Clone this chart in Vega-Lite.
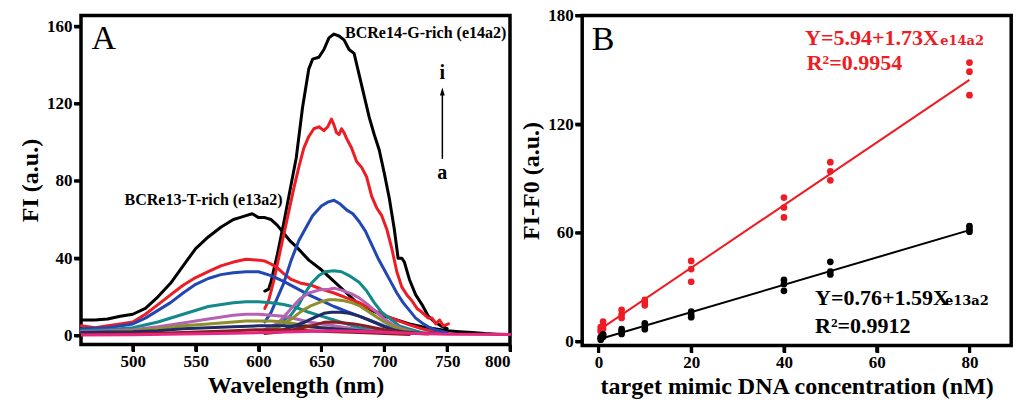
{
  "$schema": "https://vega.github.io/schema/vega-lite/v6.json",
  "padding": {"left": 16, "top": 4.5, "right": 0, "bottom": 0},
  "spacing": 3.2,
  "resolve": {"scale": {"color": "independent"}},
  "config": {
    "view": {"stroke": "black", "strokeWidth": 3.5},
    "axis": {"domain": false, "grid": false, "tickColor": "black", "tickWidth": 3, "tickSize": 7,
      "labelFont": "Liberation Serif", "labelFontWeight": "bold", "labelFontSize": 17, "labelColor": "black",
      "titleFont": "Liberation Serif", "titleFontWeight": "bold", "titleFontSize": 24, "titleColor": "black"}
  },
  "hconcat": [
    {
      "width": 429,
      "height": 329,
      "layer": [
        {
          "data": {"values": [
      {"curve":"i13","sample":"i","nm":459,"fi":8},{"curve":"i13","sample":"i","nm":470,"fi":8},{"curve":"i13","sample":"i","nm":480,"fi":8.5},{"curve":"i13","sample":"i","nm":490,"fi":10},{"curve":"i13","sample":"i","nm":500,"fi":11},{"curve":"i13","sample":"i","nm":510,"fi":14},{"curve":"i13","sample":"i","nm":520,"fi":20},{"curve":"i13","sample":"i","nm":530,"fi":27},{"curve":"i13","sample":"i","nm":540,"fi":36},{"curve":"i13","sample":"i","nm":550,"fi":45},{"curve":"i13","sample":"i","nm":560,"fi":51},{"curve":"i13","sample":"i","nm":570,"fi":56},{"curve":"i13","sample":"i","nm":580,"fi":60},{"curve":"i13","sample":"i","nm":585,"fi":61},{"curve":"i13","sample":"i","nm":590,"fi":62},{"curve":"i13","sample":"i","nm":595,"fi":63},{"curve":"i13","sample":"i","nm":600,"fi":61},{"curve":"i13","sample":"i","nm":605,"fi":61},{"curve":"i13","sample":"i","nm":610,"fi":60},{"curve":"i13","sample":"i","nm":615,"fi":57},{"curve":"i13","sample":"i","nm":620,"fi":53},{"curve":"i13","sample":"i","nm":625,"fi":49},{"curve":"i13","sample":"i","nm":630,"fi":46},{"curve":"i13","sample":"i","nm":640,"fi":39},{"curve":"i13","sample":"i","nm":650,"fi":34},{"curve":"i13","sample":"i","nm":660,"fi":28},{"curve":"i13","sample":"i","nm":670,"fi":22},{"curve":"i13","sample":"i","nm":680,"fi":16},{"curve":"i13","sample":"i","nm":690,"fi":13},{"curve":"i13","sample":"i","nm":700,"fi":10},{"curve":"i13","sample":"i","nm":710,"fi":8},{"curve":"i13","sample":"i","nm":720,"fi":6},{"curve":"i13","sample":"i","nm":730,"fi":4.5},{"curve":"i13","sample":"i","nm":740,"fi":3.5},{"curve":"i13","sample":"i","nm":750,"fi":2.5},{"curve":"i13","sample":"i","nm":760,"fi":2},{"curve":"i13","sample":"i","nm":770,"fi":1.5},{"curve":"i13","sample":"i","nm":780,"fi":1},{"curve":"i13","sample":"i","nm":790,"fi":0.7},{"curve":"i13","sample":"i","nm":800,"fi":0.5},
      {"curve":"i14","sample":"i","nm":605,"fi":23},{"curve":"i14","sample":"i","nm":608,"fi":24},{"curve":"i14","sample":"i","nm":610,"fi":28},{"curve":"i14","sample":"i","nm":615,"fi":42},{"curve":"i14","sample":"i","nm":620,"fi":58},{"curve":"i14","sample":"i","nm":625,"fi":75},{"curve":"i14","sample":"i","nm":630,"fi":92},{"curve":"i14","sample":"i","nm":635,"fi":118},{"curve":"i14","sample":"i","nm":640,"fi":138},{"curve":"i14","sample":"i","nm":643,"fi":143},{"curve":"i14","sample":"i","nm":648,"fi":144},{"curve":"i14","sample":"i","nm":652,"fi":148},{"curve":"i14","sample":"i","nm":656,"fi":154},{"curve":"i14","sample":"i","nm":660,"fi":156},{"curve":"i14","sample":"i","nm":664,"fi":155},{"curve":"i14","sample":"i","nm":668,"fi":153},{"curve":"i14","sample":"i","nm":672,"fi":148},{"curve":"i14","sample":"i","nm":676,"fi":146},{"curve":"i14","sample":"i","nm":680,"fi":135},{"curve":"i14","sample":"i","nm":684,"fi":124},{"curve":"i14","sample":"i","nm":688,"fi":113},{"curve":"i14","sample":"i","nm":692,"fi":104},{"curve":"i14","sample":"i","nm":696,"fi":96},{"curve":"i14","sample":"i","nm":700,"fi":84},{"curve":"i14","sample":"i","nm":704,"fi":71},{"curve":"i14","sample":"i","nm":708,"fi":55},{"curve":"i14","sample":"i","nm":711,"fi":40},{"curve":"i14","sample":"i","nm":714,"fi":40},{"curve":"i14","sample":"i","nm":716,"fi":38},{"curve":"i14","sample":"i","nm":720,"fi":29},{"curve":"i14","sample":"i","nm":725,"fi":21},{"curve":"i14","sample":"i","nm":730,"fi":16},{"curve":"i14","sample":"i","nm":735,"fi":10},{"curve":"i14","sample":"i","nm":740,"fi":7},{"curve":"i14","sample":"i","nm":745,"fi":5},{"curve":"i14","sample":"i","nm":750,"fi":3.5},
      {"curve":"h13","sample":"h","nm":459,"fi":5},{"curve":"h13","sample":"h","nm":470,"fi":4},{"curve":"h13","sample":"h","nm":480,"fi":5},{"curve":"h13","sample":"h","nm":490,"fi":6},{"curve":"h13","sample":"h","nm":500,"fi":7},{"curve":"h13","sample":"h","nm":510,"fi":11},{"curve":"h13","sample":"h","nm":520,"fi":16},{"curve":"h13","sample":"h","nm":530,"fi":21},{"curve":"h13","sample":"h","nm":540,"fi":26},{"curve":"h13","sample":"h","nm":550,"fi":30},{"curve":"h13","sample":"h","nm":560,"fi":33},{"curve":"h13","sample":"h","nm":570,"fi":36},{"curve":"h13","sample":"h","nm":580,"fi":38},{"curve":"h13","sample":"h","nm":590,"fi":39.5},{"curve":"h13","sample":"h","nm":600,"fi":39},{"curve":"h13","sample":"h","nm":605,"fi":38.5},{"curve":"h13","sample":"h","nm":610,"fi":37},{"curve":"h13","sample":"h","nm":615,"fi":35},{"curve":"h13","sample":"h","nm":620,"fi":32},{"curve":"h13","sample":"h","nm":626,"fi":29},{"curve":"h13","sample":"h","nm":634,"fi":27},{"curve":"h13","sample":"h","nm":642,"fi":26},{"curve":"h13","sample":"h","nm":650,"fi":24},{"curve":"h13","sample":"h","nm":660,"fi":22},{"curve":"h13","sample":"h","nm":670,"fi":19.5},{"curve":"h13","sample":"h","nm":680,"fi":17},{"curve":"h13","sample":"h","nm":690,"fi":13.5},{"curve":"h13","sample":"h","nm":700,"fi":10.5},{"curve":"h13","sample":"h","nm":710,"fi":8},{"curve":"h13","sample":"h","nm":720,"fi":5.5},{"curve":"h13","sample":"h","nm":730,"fi":3.5},{"curve":"h13","sample":"h","nm":740,"fi":2},{"curve":"h13","sample":"h","nm":750,"fi":1},
      {"curve":"h14","sample":"h","nm":605,"fi":14},{"curve":"h14","sample":"h","nm":608,"fi":18},{"curve":"h14","sample":"h","nm":612,"fi":28},{"curve":"h14","sample":"h","nm":616,"fi":40},{"curve":"h14","sample":"h","nm":620,"fi":52},{"curve":"h14","sample":"h","nm":624,"fi":64},{"curve":"h14","sample":"h","nm":628,"fi":76},{"curve":"h14","sample":"h","nm":632,"fi":87},{"curve":"h14","sample":"h","nm":636,"fi":97},{"curve":"h14","sample":"h","nm":640,"fi":103},{"curve":"h14","sample":"h","nm":644,"fi":107},{"curve":"h14","sample":"h","nm":648,"fi":108},{"curve":"h14","sample":"h","nm":652,"fi":106},{"curve":"h14","sample":"h","nm":655,"fi":108},{"curve":"h14","sample":"h","nm":658,"fi":112},{"curve":"h14","sample":"h","nm":660,"fi":109},{"curve":"h14","sample":"h","nm":662,"fi":105},{"curve":"h14","sample":"h","nm":664,"fi":104},{"curve":"h14","sample":"h","nm":666,"fi":107},{"curve":"h14","sample":"h","nm":668,"fi":105},{"curve":"h14","sample":"h","nm":670,"fi":102},{"curve":"h14","sample":"h","nm":674,"fi":97},{"curve":"h14","sample":"h","nm":678,"fi":90},{"curve":"h14","sample":"h","nm":682,"fi":87},{"curve":"h14","sample":"h","nm":686,"fi":82},{"curve":"h14","sample":"h","nm":690,"fi":72},{"curve":"h14","sample":"h","nm":694,"fi":66},{"curve":"h14","sample":"h","nm":698,"fi":62},{"curve":"h14","sample":"h","nm":702,"fi":55},{"curve":"h14","sample":"h","nm":706,"fi":45},{"curve":"h14","sample":"h","nm":710,"fi":33},{"curve":"h14","sample":"h","nm":714,"fi":25},{"curve":"h14","sample":"h","nm":718,"fi":21},{"curve":"h14","sample":"h","nm":722,"fi":18},{"curve":"h14","sample":"h","nm":726,"fi":14},{"curve":"h14","sample":"h","nm":730,"fi":12},{"curve":"h14","sample":"h","nm":735,"fi":9},{"curve":"h14","sample":"h","nm":738,"fi":9},{"curve":"h14","sample":"h","nm":741,"fi":6},{"curve":"h14","sample":"h","nm":744,"fi":8},{"curve":"h14","sample":"h","nm":747,"fi":5},{"curve":"h14","sample":"h","nm":751,"fi":6},
      {"curve":"g13","sample":"g","nm":459,"fi":3.5},{"curve":"g13","sample":"g","nm":480,"fi":4},{"curve":"g13","sample":"g","nm":500,"fi":6},{"curve":"g13","sample":"g","nm":510,"fi":9},{"curve":"g13","sample":"g","nm":520,"fi":13},{"curve":"g13","sample":"g","nm":530,"fi":17},{"curve":"g13","sample":"g","nm":540,"fi":22},{"curve":"g13","sample":"g","nm":550,"fi":26.5},{"curve":"g13","sample":"g","nm":560,"fi":29.5},{"curve":"g13","sample":"g","nm":570,"fi":31.5},{"curve":"g13","sample":"g","nm":580,"fi":32.5},{"curve":"g13","sample":"g","nm":590,"fi":33},{"curve":"g13","sample":"g","nm":600,"fi":33},{"curve":"g13","sample":"g","nm":610,"fi":31},{"curve":"g13","sample":"g","nm":620,"fi":28},{"curve":"g13","sample":"g","nm":630,"fi":24.5},{"curve":"g13","sample":"g","nm":640,"fi":21},{"curve":"g13","sample":"g","nm":650,"fi":18},{"curve":"g13","sample":"g","nm":660,"fi":15},{"curve":"g13","sample":"g","nm":670,"fi":12.5},{"curve":"g13","sample":"g","nm":680,"fi":10},{"curve":"g13","sample":"g","nm":690,"fi":7.5},{"curve":"g13","sample":"g","nm":700,"fi":5},{"curve":"g13","sample":"g","nm":710,"fi":3},{"curve":"g13","sample":"g","nm":720,"fi":1.8},{"curve":"g13","sample":"g","nm":740,"fi":1},
      {"curve":"g14","sample":"g","nm":605,"fi":7},{"curve":"g14","sample":"g","nm":610,"fi":12},{"curve":"g14","sample":"g","nm":616,"fi":21},{"curve":"g14","sample":"g","nm":620,"fi":27},{"curve":"g14","sample":"g","nm":626,"fi":39},{"curve":"g14","sample":"g","nm":632,"fi":49},{"curve":"g14","sample":"g","nm":637,"fi":55},{"curve":"g14","sample":"g","nm":643,"fi":62},{"curve":"g14","sample":"g","nm":650,"fi":67},{"curve":"g14","sample":"g","nm":655,"fi":69},{"curve":"g14","sample":"g","nm":660,"fi":70},{"curve":"g14","sample":"g","nm":665,"fi":68},{"curve":"g14","sample":"g","nm":670,"fi":65},{"curve":"g14","sample":"g","nm":675,"fi":63},{"curve":"g14","sample":"g","nm":680,"fi":59},{"curve":"g14","sample":"g","nm":685,"fi":54},{"curve":"g14","sample":"g","nm":690,"fi":47},{"curve":"g14","sample":"g","nm":695,"fi":40},{"curve":"g14","sample":"g","nm":700,"fi":34},{"curve":"g14","sample":"g","nm":705,"fi":28},{"curve":"g14","sample":"g","nm":710,"fi":22},{"curve":"g14","sample":"g","nm":715,"fi":17},{"curve":"g14","sample":"g","nm":720,"fi":13},{"curve":"g14","sample":"g","nm":725,"fi":9},{"curve":"g14","sample":"g","nm":730,"fi":6.5},{"curve":"g14","sample":"g","nm":735,"fi":4.5},{"curve":"g14","sample":"g","nm":740,"fi":3},{"curve":"g14","sample":"g","nm":750,"fi":1.5},
      {"curve":"f13","sample":"f","nm":459,"fi":2.5},{"curve":"f13","sample":"f","nm":480,"fi":3},{"curve":"f13","sample":"f","nm":500,"fi":4},{"curve":"f13","sample":"f","nm":520,"fi":7},{"curve":"f13","sample":"f","nm":540,"fi":11},{"curve":"f13","sample":"f","nm":560,"fi":15},{"curve":"f13","sample":"f","nm":580,"fi":17},{"curve":"f13","sample":"f","nm":590,"fi":17.5},{"curve":"f13","sample":"f","nm":600,"fi":17.5},{"curve":"f13","sample":"f","nm":610,"fi":17},{"curve":"f13","sample":"f","nm":620,"fi":16},{"curve":"f13","sample":"f","nm":630,"fi":14.5},{"curve":"f13","sample":"f","nm":640,"fi":12},{"curve":"f13","sample":"f","nm":650,"fi":10},{"curve":"f13","sample":"f","nm":660,"fi":8},{"curve":"f13","sample":"f","nm":670,"fi":6},{"curve":"f13","sample":"f","nm":680,"fi":4},{"curve":"f13","sample":"f","nm":690,"fi":3},{"curve":"f13","sample":"f","nm":700,"fi":2},{"curve":"f13","sample":"f","nm":720,"fi":1},
      {"curve":"f14","sample":"f","nm":605,"fi":3},{"curve":"f14","sample":"f","nm":615,"fi":6},{"curve":"f14","sample":"f","nm":625,"fi":10},{"curve":"f14","sample":"f","nm":632,"fi":16},{"curve":"f14","sample":"f","nm":637,"fi":22},{"curve":"f14","sample":"f","nm":642,"fi":27},{"curve":"f14","sample":"f","nm":648,"fi":31},{"curve":"f14","sample":"f","nm":653,"fi":33},{"curve":"f14","sample":"f","nm":660,"fi":33.5},{"curve":"f14","sample":"f","nm":666,"fi":33},{"curve":"f14","sample":"f","nm":672,"fi":31},{"curve":"f14","sample":"f","nm":680,"fi":27.5},{"curve":"f14","sample":"f","nm":686,"fi":23},{"curve":"f14","sample":"f","nm":692,"fi":17},{"curve":"f14","sample":"f","nm":698,"fi":12},{"curve":"f14","sample":"f","nm":705,"fi":8.5},{"curve":"f14","sample":"f","nm":712,"fi":5},{"curve":"f14","sample":"f","nm":719,"fi":3.5},{"curve":"f14","sample":"f","nm":730,"fi":1.5},
      {"curve":"e13","sample":"e","nm":459,"fi":2},{"curve":"e13","sample":"e","nm":480,"fi":2.5},{"curve":"e13","sample":"e","nm":500,"fi":3},{"curve":"e13","sample":"e","nm":520,"fi":4.5},{"curve":"e13","sample":"e","nm":540,"fi":6.5},{"curve":"e13","sample":"e","nm":560,"fi":8.5},{"curve":"e13","sample":"e","nm":580,"fi":10.5},{"curve":"e13","sample":"e","nm":590,"fi":11},{"curve":"e13","sample":"e","nm":600,"fi":11},{"curve":"e13","sample":"e","nm":610,"fi":10.5},{"curve":"e13","sample":"e","nm":620,"fi":10},{"curve":"e13","sample":"e","nm":630,"fi":8.5},{"curve":"e13","sample":"e","nm":640,"fi":7},{"curve":"e13","sample":"e","nm":650,"fi":6},{"curve":"e13","sample":"e","nm":660,"fi":5},{"curve":"e13","sample":"e","nm":680,"fi":3},{"curve":"e13","sample":"e","nm":700,"fi":2},{"curve":"e13","sample":"e","nm":720,"fi":1},
      {"curve":"e14","sample":"e","nm":605,"fi":2.5},{"curve":"e14","sample":"e","nm":615,"fi":6},{"curve":"e14","sample":"e","nm":626,"fi":14},{"curve":"e14","sample":"e","nm":633,"fi":19},{"curve":"e14","sample":"e","nm":640,"fi":22},{"curve":"e14","sample":"e","nm":648,"fi":23.5},{"curve":"e14","sample":"e","nm":656,"fi":24},{"curve":"e14","sample":"e","nm":660,"fi":24.5},{"curve":"e14","sample":"e","nm":666,"fi":23.5},{"curve":"e14","sample":"e","nm":674,"fi":21.5},{"curve":"e14","sample":"e","nm":680,"fi":19.5},{"curve":"e14","sample":"e","nm":687,"fi":16},{"curve":"e14","sample":"e","nm":694,"fi":12},{"curve":"e14","sample":"e","nm":700,"fi":8.5},{"curve":"e14","sample":"e","nm":707,"fi":5.5},{"curve":"e14","sample":"e","nm":714,"fi":3.5},{"curve":"e14","sample":"e","nm":725,"fi":1.5},
      {"curve":"d13","sample":"d","nm":459,"fi":1.5},{"curve":"d13","sample":"d","nm":480,"fi":2},{"curve":"d13","sample":"d","nm":500,"fi":2.5},{"curve":"d13","sample":"d","nm":520,"fi":3.5},{"curve":"d13","sample":"d","nm":540,"fi":5},{"curve":"d13","sample":"d","nm":560,"fi":6},{"curve":"d13","sample":"d","nm":580,"fi":7},{"curve":"d13","sample":"d","nm":590,"fi":7.5},{"curve":"d13","sample":"d","nm":600,"fi":7.5},{"curve":"d13","sample":"d","nm":610,"fi":7.5},{"curve":"d13","sample":"d","nm":620,"fi":7},{"curve":"d13","sample":"d","nm":630,"fi":6},{"curve":"d13","sample":"d","nm":640,"fi":5},{"curve":"d13","sample":"d","nm":650,"fi":4},{"curve":"d13","sample":"d","nm":670,"fi":3},{"curve":"d13","sample":"d","nm":690,"fi":2},{"curve":"d13","sample":"d","nm":710,"fi":1},
      {"curve":"d14","sample":"d","nm":605,"fi":2},{"curve":"d14","sample":"d","nm":615,"fi":4},{"curve":"d14","sample":"d","nm":626,"fi":8.5},{"curve":"d14","sample":"d","nm":634,"fi":12.5},{"curve":"d14","sample":"d","nm":642,"fi":15.5},{"curve":"d14","sample":"d","nm":650,"fi":17.5},{"curve":"d14","sample":"d","nm":656,"fi":18.5},{"curve":"d14","sample":"d","nm":661,"fi":18.5},{"curve":"d14","sample":"d","nm":668,"fi":18},{"curve":"d14","sample":"d","nm":674,"fi":17},{"curve":"d14","sample":"d","nm":680,"fi":15.5},{"curve":"d14","sample":"d","nm":686,"fi":13},{"curve":"d14","sample":"d","nm":693,"fi":10},{"curve":"d14","sample":"d","nm":700,"fi":7},{"curve":"d14","sample":"d","nm":706,"fi":5},{"curve":"d14","sample":"d","nm":714,"fi":3},{"curve":"d14","sample":"d","nm":725,"fi":1.5},
      {"curve":"c13","sample":"c","nm":459,"fi":1.5},{"curve":"c13","sample":"c","nm":480,"fi":1.8},{"curve":"c13","sample":"c","nm":500,"fi":2},{"curve":"c13","sample":"c","nm":520,"fi":2.5},{"curve":"c13","sample":"c","nm":540,"fi":3.5},{"curve":"c13","sample":"c","nm":560,"fi":4},{"curve":"c13","sample":"c","nm":580,"fi":4.5},{"curve":"c13","sample":"c","nm":600,"fi":5},{"curve":"c13","sample":"c","nm":620,"fi":5},{"curve":"c13","sample":"c","nm":640,"fi":4.5},{"curve":"c13","sample":"c","nm":660,"fi":3.5},{"curve":"c13","sample":"c","nm":680,"fi":2.5},{"curve":"c13","sample":"c","nm":700,"fi":1.5},{"curve":"c13","sample":"c","nm":720,"fi":1},
      {"curve":"c14","sample":"c","nm":605,"fi":1.5},{"curve":"c14","sample":"c","nm":620,"fi":3},{"curve":"c14","sample":"c","nm":637,"fi":7},{"curve":"c14","sample":"c","nm":645,"fi":9.5},{"curve":"c14","sample":"c","nm":652,"fi":11.5},{"curve":"c14","sample":"c","nm":658,"fi":12},{"curve":"c14","sample":"c","nm":665,"fi":12},{"curve":"c14","sample":"c","nm":672,"fi":11.5},{"curve":"c14","sample":"c","nm":680,"fi":10},{"curve":"c14","sample":"c","nm":686,"fi":8.5},{"curve":"c14","sample":"c","nm":693,"fi":6.5},{"curve":"c14","sample":"c","nm":700,"fi":4.5},{"curve":"c14","sample":"c","nm":706,"fi":3},{"curve":"c14","sample":"c","nm":715,"fi":2},{"curve":"c14","sample":"c","nm":730,"fi":1},
      {"curve":"b13","sample":"b","nm":459,"fi":0.5},{"curve":"b13","sample":"b","nm":500,"fi":0.8},{"curve":"b13","sample":"b","nm":540,"fi":1.5},{"curve":"b13","sample":"b","nm":580,"fi":2.5},{"curve":"b13","sample":"b","nm":600,"fi":3},{"curve":"b13","sample":"b","nm":620,"fi":3},{"curve":"b13","sample":"b","nm":640,"fi":2.5},{"curve":"b13","sample":"b","nm":660,"fi":2},{"curve":"b13","sample":"b","nm":680,"fi":1.5},{"curve":"b13","sample":"b","nm":700,"fi":1},{"curve":"b13","sample":"b","nm":720,"fi":0.5},
      {"curve":"b14","sample":"b","nm":605,"fi":1},{"curve":"b14","sample":"b","nm":620,"fi":2},{"curve":"b14","sample":"b","nm":635,"fi":4},{"curve":"b14","sample":"b","nm":645,"fi":5.5},{"curve":"b14","sample":"b","nm":652,"fi":6.8},{"curve":"b14","sample":"b","nm":660,"fi":7},{"curve":"b14","sample":"b","nm":668,"fi":6.5},{"curve":"b14","sample":"b","nm":676,"fi":6},{"curve":"b14","sample":"b","nm":684,"fi":5},{"curve":"b14","sample":"b","nm":692,"fi":4},{"curve":"b14","sample":"b","nm":700,"fi":3},{"curve":"b14","sample":"b","nm":710,"fi":2},{"curve":"b14","sample":"b","nm":720,"fi":1.2},{"curve":"b14","sample":"b","nm":735,"fi":0.8},
      {"curve":"a13","sample":"a","nm":459,"fi":0.3},{"curve":"a13","sample":"a","nm":500,"fi":0.4},{"curve":"a13","sample":"a","nm":540,"fi":0.8},{"curve":"a13","sample":"a","nm":580,"fi":1.2},{"curve":"a13","sample":"a","nm":605,"fi":1.5},
      {"curve":"a14","sample":"a","nm":605,"fi":1.5},{"curve":"a14","sample":"a","nm":630,"fi":2},{"curve":"a14","sample":"a","nm":660,"fi":2.5},{"curve":"a14","sample":"a","nm":690,"fi":2},{"curve":"a14","sample":"a","nm":720,"fi":1.2},{"curve":"a14","sample":"a","nm":750,"fi":0.7},{"curve":"a14","sample":"a","nm":800,"fi":0.5}
          ]},
          "mark": {"type": "line", "strokeWidth": 3, "strokeJoin": "round", "strokeCap": "round"},
          "encoding": {
            "x": {"field": "nm", "type": "quantitative", "scale": {"domain": [458.8, 800], "nice": false, "zero": false},
              "axis": {"values": [500, 550, 600, 650, 700, 750, 800], "title": "Wavelength (nm)"}},
            "y": {"field": "fi", "type": "quantitative", "scale": {"domain": [-4.66, 165.6], "nice": false, "zero": false},
              "axis": {"values": [0, 40, 80, 120, 160], "title": "FI (a.u.)"}},
            "detail": {"field": "curve", "type": "nominal"},
            "color": {"field": "sample", "type": "nominal", "legend": null,
              "scale": {"domain": ["a", "b", "c", "d", "e", "f", "g", "h", "i"],
                "range": ["#e8267f", "#8a1d22", "#1e2b66", "#8e8e2a", "#b462b4", "#12898a", "#2147b3", "#ee1c24", "#000000"]}}
          }
        },
        {
          "data": {"values": [{"nm": 467.2, "fi": 148.5, "label": "A"}]},
          "mark": {"type": "text", "font": "Liberation Serif", "fontSize": 34, "align": "left", "baseline": "alphabetic", "color": "black"},
          "encoding": {"x": {"field": "nm", "type": "quantitative"}, "y": {"field": "fi", "type": "quantitative"}, "text": {"field": "label"}}
        },
        {
          "data": {"values": [{"nm": 668.8, "fi": 153.7, "label": "BCRe14-G-rich (e14a2)"}, {"nm": 493.4, "fi": 67.6, "label": "BCRe13-T-rich (e13a2)"}]},
          "mark": {"type": "text", "font": "Liberation Serif", "fontSize": 16, "fontWeight": "bold", "align": "left", "baseline": "alphabetic", "color": "black"},
          "encoding": {"x": {"field": "nm", "type": "quantitative"}, "y": {"field": "fi", "type": "quantitative"}, "text": {"field": "label"}}
        },
        {
          "data": {"values": [{"nm": 746.2, "fi": 132.8, "label": "i"}, {"nm": 746.2, "fi": 81, "label": "a"}]},
          "mark": {"type": "text", "font": "Liberation Serif", "fontSize": 20, "fontWeight": "bold", "align": "center", "baseline": "alphabetic", "color": "black"},
          "encoding": {"x": {"field": "nm", "type": "quantitative"}, "y": {"field": "fi", "type": "quantitative"}, "text": {"field": "label"}}
        },
        {
          "data": {"values": [{"nm": 746.2, "fi": 91.4, "fi2": 125}]},
          "mark": {"type": "rule", "strokeWidth": 1.5, "color": "black"},
          "encoding": {"x": {"field": "nm", "type": "quantitative"}, "y": {"field": "fi", "type": "quantitative"}, "y2": {"field": "fi2"}}
        },
        {
          "data": {"values": [{"nm": 746.2, "fi": 126.3}]},
          "mark": {"type": "point", "shape": "M0,-1L0.6,1L-0.6,1Z", "size": 64, "filled": true, "color": "black", "opacity": 1},
          "encoding": {"x": {"field": "nm", "type": "quantitative"}, "y": {"field": "fi", "type": "quantitative"}}
        },
        {
          "data": {"values": [{"tick": 500}, {"tick": 550}, {"tick": 600}, {"tick": 650}, {"tick": 700}, {"tick": 750}, {"tick": 800}]},
          "mark": {"type": "rule", "strokeWidth": 3, "color": "black", "y2Offset": 7},
          "encoding": {"x": {"field": "tick", "type": "quantitative"}, "y": {"datum": -4.66, "type": "quantitative"}, "y2": {"datum": -4.66}}
        },
        {
          "data": {"values": [{"tick": 0}, {"tick": 40}, {"tick": 80}, {"tick": 120}, {"tick": 160}]},
          "mark": {"type": "rule", "strokeWidth": 3, "color": "black", "x2Offset": -7},
          "encoding": {"y": {"field": "tick", "type": "quantitative"}, "x": {"datum": 458.8, "type": "quantitative"}, "x2": {"datum": 458.8}}
        },
        {
          "mark": {"type": "rule", "strokeWidth": 3.5, "color": "black", "strokeCap": "square"},
          "encoding": {"x": {"datum": 458.8, "type": "quantitative"}, "x2": {"datum": 800}, "y": {"datum": -4.66, "type": "quantitative"}}
        },
        {
          "mark": {"type": "rule", "strokeWidth": 3.5, "color": "black", "strokeCap": "square"},
          "encoding": {"x": {"datum": 458.8, "type": "quantitative"}, "x2": {"datum": 800}, "y": {"datum": 165.6, "type": "quantitative"}}
        },
        {
          "mark": {"type": "rule", "strokeWidth": 3.5, "color": "black", "strokeCap": "square"},
          "encoding": {"x": {"datum": 458.8, "type": "quantitative"}, "y": {"datum": -4.66, "type": "quantitative"}, "y2": {"datum": 165.6}}
        },
        {
          "mark": {"type": "rule", "strokeWidth": 3.5, "color": "black", "strokeCap": "square"},
          "encoding": {"x": {"datum": 800, "type": "quantitative"}, "y": {"datum": -4.66, "type": "quantitative"}, "y2": {"datum": 165.6}}
        },
        {
          "mark": {"type": "point", "shape": "square", "size": 784, "filled": true, "color": "white", "opacity": 0},
          "encoding": {"x": {"datum": 630, "type": "quantitative"}, "y": {"datum": 165.6, "type": "quantitative"}}
        }
      ]
    },
    {
      "width": 429,
      "height": 330,
      "layer": [
        {
          "data": {"values": [
            {"target":"e14a2","conc":0.5,"signal":7},{"target":"e14a2","conc":80,"signal":144.5},
            {"target":"e13a2","conc":0.5,"signal":1.5},{"target":"e13a2","conc":80,"signal":61.5}
          ]},
          "mark": {"type": "line", "strokeWidth": 2},
          "encoding": {
            "x": {"field": "conc", "type": "quantitative", "scale": {"domain": [-3.5, 89], "nice": false, "zero": false},
              "axis": {"values": [0, 20, 40, 60, 80], "title": "target mimic DNA concentration (nM)"}},
            "y": {"field": "signal", "type": "quantitative", "scale": {"domain": [-2.2, 180], "nice": false, "zero": false},
              "axis": {"values": [0, 60, 120, 180], "title": "FI-F0 (a.u.)"}},
            "color": {"field": "target", "type": "nominal", "legend": null, "scale": {"domain": ["e13a2", "e14a2"], "range": ["#000000", "#ee1c24"]}}
          }
        },
        {
          "data": {"values": [
            {"target":"e14a2","conc":0.5,"signal":5.5},{"target":"e14a2","conc":0.5,"signal":6.5},{"target":"e14a2","conc":0.5,"signal":8},
            {"target":"e14a2","conc":1,"signal":7},{"target":"e14a2","conc":1,"signal":9},{"target":"e14a2","conc":1,"signal":11},
            {"target":"e14a2","conc":5,"signal":13},{"target":"e14a2","conc":5,"signal":15},{"target":"e14a2","conc":5,"signal":17.5},
            {"target":"e14a2","conc":10,"signal":20},{"target":"e14a2","conc":10,"signal":21.5},{"target":"e14a2","conc":10,"signal":23},
            {"target":"e14a2","conc":20,"signal":33},{"target":"e14a2","conc":20,"signal":40},{"target":"e14a2","conc":20,"signal":44.5},
            {"target":"e14a2","conc":40,"signal":68.5},{"target":"e14a2","conc":40,"signal":74},{"target":"e14a2","conc":40,"signal":79.5},
            {"target":"e14a2","conc":50,"signal":89},{"target":"e14a2","conc":50,"signal":94},{"target":"e14a2","conc":50,"signal":99},
            {"target":"e14a2","conc":80,"signal":136},{"target":"e14a2","conc":80,"signal":149},{"target":"e14a2","conc":80,"signal":154},
            {"target":"e13a2","conc":0.5,"signal":1},{"target":"e13a2","conc":0.5,"signal":1.8},{"target":"e13a2","conc":0.5,"signal":2.5},
            {"target":"e13a2","conc":1,"signal":2.5},{"target":"e13a2","conc":1,"signal":3.2},{"target":"e13a2","conc":1,"signal":4},
            {"target":"e13a2","conc":5,"signal":4.2},{"target":"e13a2","conc":5,"signal":5.5},{"target":"e13a2","conc":5,"signal":6.8},
            {"target":"e13a2","conc":10,"signal":6.8},{"target":"e13a2","conc":10,"signal":8.3},{"target":"e13a2","conc":10,"signal":10},
            {"target":"e13a2","conc":20,"signal":13.4},{"target":"e13a2","conc":20,"signal":14.7},{"target":"e13a2","conc":20,"signal":16.5},
            {"target":"e13a2","conc":40,"signal":28},{"target":"e13a2","conc":40,"signal":31.8},{"target":"e13a2","conc":40,"signal":34},
            {"target":"e13a2","conc":50,"signal":37},{"target":"e13a2","conc":50,"signal":38.6},{"target":"e13a2","conc":50,"signal":44},
            {"target":"e13a2","conc":80,"signal":60.6},{"target":"e13a2","conc":80,"signal":62},{"target":"e13a2","conc":80,"signal":63.7}
          ]},
          "mark": {"type": "circle", "size": 45, "opacity": 1},
          "encoding": {
            "x": {"field": "conc", "type": "quantitative"},
            "y": {"field": "signal", "type": "quantitative"},
            "color": {"field": "target", "type": "nominal", "legend": null, "scale": {"domain": ["e13a2", "e14a2"], "range": ["#000000", "#ee1c24"]}}
          }
        },
        {
          "data": {"values": [{"conc": -1.44, "signal": 161.2, "label": "B"}]},
          "mark": {"type": "text", "font": "Liberation Serif", "fontSize": 34, "align": "left", "baseline": "alphabetic", "color": "black"},
          "encoding": {"x": {"field": "conc", "type": "quantitative"}, "y": {"field": "signal", "type": "quantitative"}, "text": {"field": "label"}}
        },
        {
          "data": {"values": [{"conc": 44.55, "signal": 163.9, "label": "Y=5.94+1.73X"}, {"conc": 44.9, "signal": 150.1, "label": "R²=0.9954"}]},
          "mark": {"type": "text", "font": "Liberation Serif", "fontSize": 22, "fontWeight": "bold", "align": "left", "baseline": "alphabetic", "color": "#ee1c24"},
          "encoding": {"x": {"field": "conc", "type": "quantitative"}, "y": {"field": "signal", "type": "quantitative"}, "text": {"field": "label"}}
        },
        {
          "data": {"values": [{"conc": 73.7, "signal": 163.9, "label": "e14a2"}]},
          "mark": {"type": "text", "font": "DejaVu Serif", "fontSize": 13, "fontWeight": "bold", "align": "left", "baseline": "alphabetic", "color": "#ee1c24"},
          "encoding": {"x": {"field": "conc", "type": "quantitative"}, "y": {"field": "signal", "type": "quantitative"}, "text": {"field": "label"}}
        },
        {
          "data": {"values": [{"conc": 46.7, "signal": 20.3, "label": "Y=0.76+1.59X"}, {"conc": 46.7, "signal": 4.6, "label": "R²=0.9912"}]},
          "mark": {"type": "text", "font": "Liberation Serif", "fontSize": 22, "fontWeight": "bold", "align": "left", "baseline": "alphabetic", "color": "black"},
          "encoding": {"x": {"field": "conc", "type": "quantitative"}, "y": {"field": "signal", "type": "quantitative"}, "text": {"field": "label"}}
        },
        {
          "data": {"values": [{"conc": 74.7, "signal": 20.3, "label": "e13a2"}]},
          "mark": {"type": "text", "font": "DejaVu Serif", "fontSize": 13, "fontWeight": "bold", "align": "left", "baseline": "alphabetic", "color": "black"},
          "encoding": {"x": {"field": "conc", "type": "quantitative"}, "y": {"field": "signal", "type": "quantitative"}, "text": {"field": "label"}}
        },
        {
          "data": {"values": [{"tick": 0}, {"tick": 20}, {"tick": 40}, {"tick": 60}, {"tick": 80}]},
          "mark": {"type": "rule", "strokeWidth": 3, "color": "black", "y2Offset": 7},
          "encoding": {"x": {"field": "tick", "type": "quantitative"}, "y": {"datum": -2.2, "type": "quantitative"}, "y2": {"datum": -2.2}}
        },
        {
          "data": {"values": [{"tick": 0}, {"tick": 60}, {"tick": 120}, {"tick": 180}]},
          "mark": {"type": "rule", "strokeWidth": 3, "color": "black", "x2Offset": -7},
          "encoding": {"y": {"field": "tick", "type": "quantitative"}, "x": {"datum": -3.5, "type": "quantitative"}, "x2": {"datum": -3.5}}
        },
        {
          "mark": {"type": "rule", "strokeWidth": 3.5, "color": "black", "strokeCap": "square"},
          "encoding": {"x": {"datum": -3.5, "type": "quantitative"}, "x2": {"datum": 89}, "y": {"datum": -2.2, "type": "quantitative"}}
        },
        {
          "mark": {"type": "rule", "strokeWidth": 3.5, "color": "black", "strokeCap": "square"},
          "encoding": {"x": {"datum": -3.5, "type": "quantitative"}, "x2": {"datum": 89}, "y": {"datum": 180, "type": "quantitative"}}
        },
        {
          "mark": {"type": "rule", "strokeWidth": 3.5, "color": "black", "strokeCap": "square"},
          "encoding": {"x": {"datum": -3.5, "type": "quantitative"}, "y": {"datum": -2.2, "type": "quantitative"}, "y2": {"datum": 180}}
        },
        {
          "mark": {"type": "rule", "strokeWidth": 3.5, "color": "black", "strokeCap": "square"},
          "encoding": {"x": {"datum": 89, "type": "quantitative"}, "y": {"datum": -2.2, "type": "quantitative"}, "y2": {"datum": 180}}
        }
      ]
    }
  ]
}
